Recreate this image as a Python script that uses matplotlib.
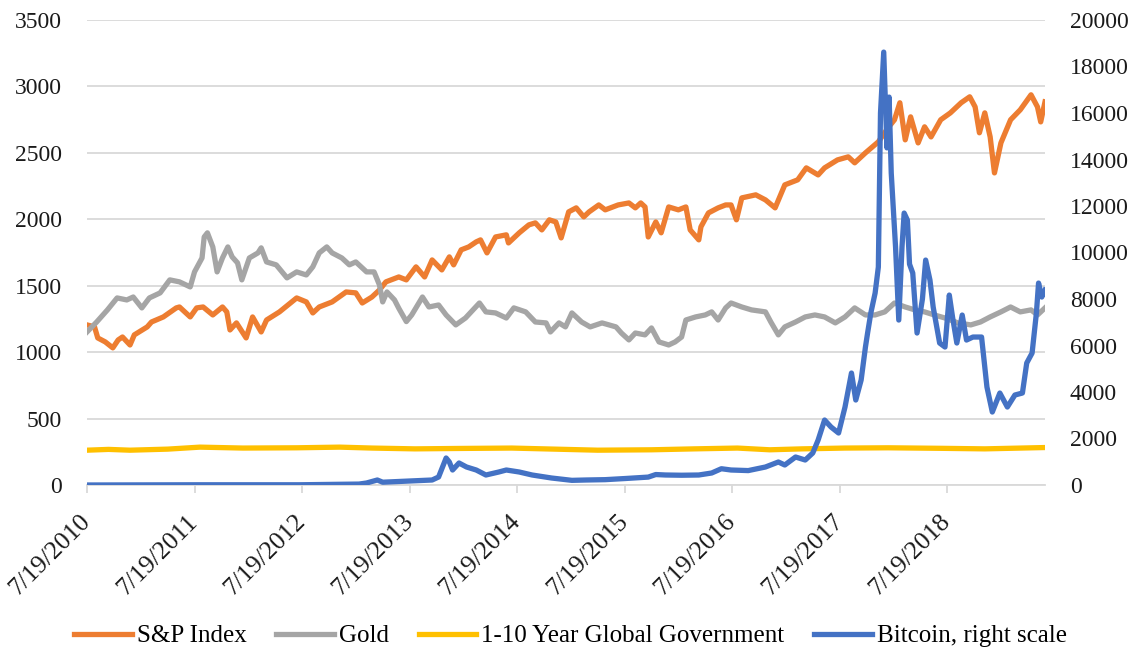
import matplotlib
matplotlib.use("Agg")
import matplotlib.pyplot as plt

plt.rcParams["font.family"] = ["Liberation Serif", "DejaVu Serif"]

# ── Data (decimal years) ─────────────────────────────────────────────────────
sp_x = [2010.55, 2010.62, 2010.65, 2010.72, 2010.79, 2010.84, 2010.88, 2010.95, 2010.99,
        2011.11, 2011.15, 2011.26, 2011.38, 2011.41, 2011.51, 2011.57, 2011.63, 2011.72,
        2011.81, 2011.85, 2011.88, 2011.94, 2012.03, 2012.09, 2012.17, 2012.22, 2012.34,
        2012.50, 2012.59, 2012.65, 2012.71, 2012.83, 2012.96, 2013.05, 2013.11, 2013.20,
        2013.27, 2013.33, 2013.45, 2013.52, 2013.61, 2013.69, 2013.76, 2013.85, 2013.92,
        2013.96, 2014.03, 2014.10, 2014.17, 2014.21, 2014.27, 2014.35, 2014.45, 2014.47,
        2014.57, 2014.66, 2014.72, 2014.78, 2014.85, 2014.91, 2014.96, 2015.03, 2015.10,
        2015.17, 2015.22, 2015.31, 2015.37, 2015.49, 2015.59, 2015.65, 2015.70, 2015.74,
        2015.77, 2015.84, 2015.89, 2015.96, 2016.05, 2016.12, 2016.16, 2016.24, 2016.26,
        2016.33, 2016.42, 2016.49, 2016.54, 2016.59, 2016.64, 2016.77, 2016.86, 2016.95,
        2017.04, 2017.16, 2017.24, 2017.35, 2017.41, 2017.53, 2017.63, 2017.69, 2017.79,
        2017.91, 2018.00, 2018.06, 2018.11, 2018.16, 2018.21, 2018.28, 2018.34, 2018.40,
        2018.49, 2018.58, 2018.68, 2018.76, 2018.81, 2018.85, 2018.90, 2018.95, 2018.99,
        2019.05, 2019.14, 2019.23, 2019.33, 2019.39, 2019.42, 2019.46]
sp_y = [1205, 1190, 1107, 1077, 1032, 1092, 1114, 1054, 1130,
        1190, 1227, 1265, 1333, 1340, 1265, 1333, 1340, 1280,
        1340, 1303, 1167, 1220, 1107, 1265, 1152, 1242, 1303,
        1408, 1378, 1295, 1340, 1378, 1453, 1446, 1370, 1415,
        1468, 1529, 1566, 1544, 1642, 1566, 1694, 1619, 1717,
        1657, 1770, 1792, 1830, 1845, 1747, 1867, 1883, 1822,
        1898, 1958, 1973, 1920, 1996, 1980, 1860, 2056, 2086,
        2018, 2056, 2108, 2071, 2108, 2123, 2086, 2123, 2093,
        1867, 1980, 1898, 2093, 2071, 2093, 1920, 1845, 1943,
        2048, 2086, 2108, 2108, 1996, 2161, 2184, 2146, 2086,
        2259, 2297, 2387, 2334, 2387, 2447, 2470, 2425, 2500,
        2583, 2688, 2749, 2877, 2598, 2771, 2575, 2696, 2620,
        2749, 2801, 2877, 2922, 2846, 2651, 2801, 2620, 2349,
        2575, 2749, 2824, 2937, 2846, 2733, 2884]

gold_x = [2010.55, 2010.64, 2010.74, 2010.83, 2010.92, 2010.98, 2011.06, 2011.13, 2011.23,
          2011.32, 2011.41, 2011.51, 2011.55, 2011.62, 2011.64, 2011.67, 2011.72, 2011.76,
          2011.81, 2011.86, 2011.90, 2011.95, 2011.99, 2012.06, 2012.14, 2012.17, 2012.22,
          2012.31, 2012.41, 2012.50, 2012.59, 2012.65, 2012.71, 2012.78, 2012.83, 2012.92,
          2012.99, 2013.05, 2013.15, 2013.22, 2013.27, 2013.30, 2013.34, 2013.41, 2013.45,
          2013.52, 2013.57, 2013.67, 2013.73, 2013.82, 2013.89, 2013.98, 2014.07, 2014.20,
          2014.26, 2014.35, 2014.45, 2014.52, 2014.63, 2014.72, 2014.82, 2014.86, 2014.94,
          2015.00, 2015.06, 2015.15, 2015.23, 2015.34, 2015.47, 2015.52, 2015.59, 2015.65,
          2015.74, 2015.80, 2015.87, 2015.96, 2016.02, 2016.08, 2016.12, 2016.21, 2016.30,
          2016.36, 2016.42, 2016.49, 2016.54, 2016.64, 2016.73, 2016.86, 2016.91, 2016.98,
          2017.04, 2017.14, 2017.23, 2017.32, 2017.41, 2017.51, 2017.60, 2017.69, 2017.79,
          2017.88, 2017.97, 2018.06, 2018.16, 2018.25, 2018.34, 2018.43, 2018.53, 2018.65,
          2018.77, 2018.86, 2018.95, 2019.05, 2019.14, 2019.23, 2019.33, 2019.39, 2019.46]
gold_y = [1152, 1227, 1318, 1408, 1393, 1415, 1333, 1408, 1446,
          1544, 1529, 1491, 1604, 1709, 1867, 1898, 1792, 1604,
          1709, 1792, 1717, 1672, 1544, 1709, 1747, 1785, 1679,
          1657, 1559, 1604, 1581, 1642, 1747, 1792, 1747, 1709,
          1657, 1679, 1604, 1604, 1506, 1378, 1453, 1393, 1330,
          1230, 1280, 1415, 1340, 1355, 1280, 1205, 1257, 1370,
          1303, 1295, 1257, 1333, 1303, 1227, 1220, 1152, 1220,
          1190, 1295, 1227, 1190, 1220, 1190, 1144, 1092, 1144,
          1130, 1182, 1077, 1054, 1077, 1114, 1242, 1265, 1280,
          1303, 1242, 1333, 1370, 1340, 1318, 1303, 1227, 1130,
          1190, 1227, 1265, 1280, 1265, 1220, 1265, 1333, 1280,
          1280, 1303, 1370, 1340, 1318, 1303, 1280, 1257, 1220,
          1205, 1227, 1265, 1303, 1340, 1303, 1318, 1280, 1333]

govt_x = [2010.55, 2010.75, 2010.95, 2011.30, 2011.60, 2012.00, 2012.50, 2012.90,
          2013.20, 2013.60, 2014.00, 2014.50, 2015.00, 2015.30, 2015.80, 2016.20,
          2016.60, 2016.90, 2017.20, 2017.60, 2018.00, 2018.50, 2018.90, 2019.46]
govt_y = [262, 268, 262, 270, 285, 278, 280, 285,
          278, 272, 275, 278, 268, 262, 265, 272,
          278, 265, 272, 278, 280, 276, 272, 282]

btc_x = [2010.55, 2011.60, 2012.53, 2013.08, 2013.15, 2013.25, 2013.30, 2013.76, 2013.82,
         2013.89, 2013.92, 2013.95, 2014.01, 2014.08, 2014.17, 2014.26, 2014.38, 2014.45,
         2014.57, 2014.69, 2014.87, 2015.06, 2015.19, 2015.37, 2015.56, 2015.77, 2015.84,
         2015.93, 2016.08, 2016.24, 2016.36, 2016.45, 2016.54, 2016.70, 2016.86, 2016.98,
         2017.04, 2017.14, 2017.23, 2017.30, 2017.35, 2017.41, 2017.47, 2017.54, 2017.60,
         2017.66, 2017.70, 2017.75, 2017.79, 2017.81, 2017.84, 2017.88, 2017.91, 2017.93,
         2017.96, 2017.99, 2018.01, 2018.03, 2018.07, 2018.10, 2018.13, 2018.15, 2018.18,
         2018.20, 2018.23, 2018.27, 2018.32, 2018.35, 2018.39, 2018.42, 2018.48, 2018.53,
         2018.57, 2018.60, 2018.64, 2018.69, 2018.73, 2018.79, 2018.87, 2018.92, 2018.97,
         2019.04, 2019.11, 2019.18, 2019.25, 2019.29, 2019.34, 2019.38, 2019.40, 2019.43,
         2019.46]
btc_y = [0, 10, 10, 40, 86, 215, 120, 215, 344,
         1161, 989, 645, 946, 774, 645, 430, 559, 645,
         559, 430, 301, 200, 215, 230, 280, 340, 450,
         430, 420, 430, 516, 700, 645, 620, 774, 989,
         860, 1204, 1075, 1376, 1935, 2795, 2494, 2236, 3354,
         4816, 3655, 4515, 5934, 6536, 7396, 8256, 9374, 16000,
         18619, 14500, 16684, 13416, 10234, 7095, 10234, 11696, 11395,
         9500, 9116, 6536, 8000, 9675, 8815, 7654, 6106, 5934,
         8170, 7224, 6106, 7310, 6235, 6364, 6364, 4214, 3139,
         3956, 3354, 3870, 3956, 5246, 5676, 7396, 8686, 8084,
         8385]

tick_pos = [2010.55 + i for i in range(9)]
tick_labels = ["7/19/%d" % (2010 + i) for i in range(9)]

colors = {"sp": "#ED7D31", "gold": "#A5A5A5", "govt": "#FFC000", "btc": "#4472C4"}

# ── Figure ───────────────────────────────────────────────────────────────────
fig = plt.figure(figsize=(11.41, 6.53), dpi=100)
fig.patch.set_facecolor("white")
ax = fig.add_axes([87 / 1141, 1 - 485 / 653, (1045 - 87) / 1141, (485 - 20) / 653])
ax2 = ax.twinx()

lw = 3.8
ax.plot(sp_x, sp_y, color=colors["sp"], lw=lw, label="S&P Index", solid_joinstyle="round")
ax.plot(gold_x, gold_y, color=colors["gold"], lw=lw, label="Gold", solid_joinstyle="round")
ax.plot(govt_x, govt_y, color=colors["govt"], lw=lw, label="1-10 Year Global Government")
ax2.plot(btc_x, btc_y, color=colors["btc"], lw=lw, label="Bitcoin, right scale",
         solid_joinstyle="round")

ax.set_xlim(2010.55, 2019.46)
ax.set_ylim(0, 3500)
ax2.set_ylim(0, 20000)
ax.set_yticks(range(0, 3501, 500))
ax2.set_yticks(range(0, 20001, 2000))
ax.set_xticks(tick_pos)
ax.set_xticklabels(tick_labels, rotation=45, ha="right", va="center",
                   rotation_mode="anchor")

ax.yaxis.grid(True, color="#d9d9d9", lw=1.3)
ax.set_axisbelow(True)
for name, sp in ax.spines.items():
    sp.set_visible(name == "bottom")
ax.spines["bottom"].set_color("#d9d9d9")
ax.spines["bottom"].set_linewidth(1.3)
for sp in ax2.spines.values():
    sp.set_visible(False)

ax.tick_params(axis="y", length=0, pad=18, labelsize=17, colors="#1a1a1a")
ax2.tick_params(axis="y", length=0, pad=18, labelsize=17, colors="#1a1a1a")
ax.tick_params(axis="x", length=6, width=1.3, color="#d9d9d9", pad=18,
               labelsize=18.5, labelcolor="#1a1a1a")

h1, l1 = ax.get_legend_handles_labels()
h2, l2 = ax2.get_legend_handles_labels()
fig.legend(h1 + h2, l1 + l2, loc="center", bbox_to_anchor=(0.5, 0.026), ncol=4,
           frameon=False, fontsize=18, handlelength=2.3, handletextpad=0.2,
           columnspacing=1.2)

fig.savefig("out.png", dpi=100, facecolor="white")
